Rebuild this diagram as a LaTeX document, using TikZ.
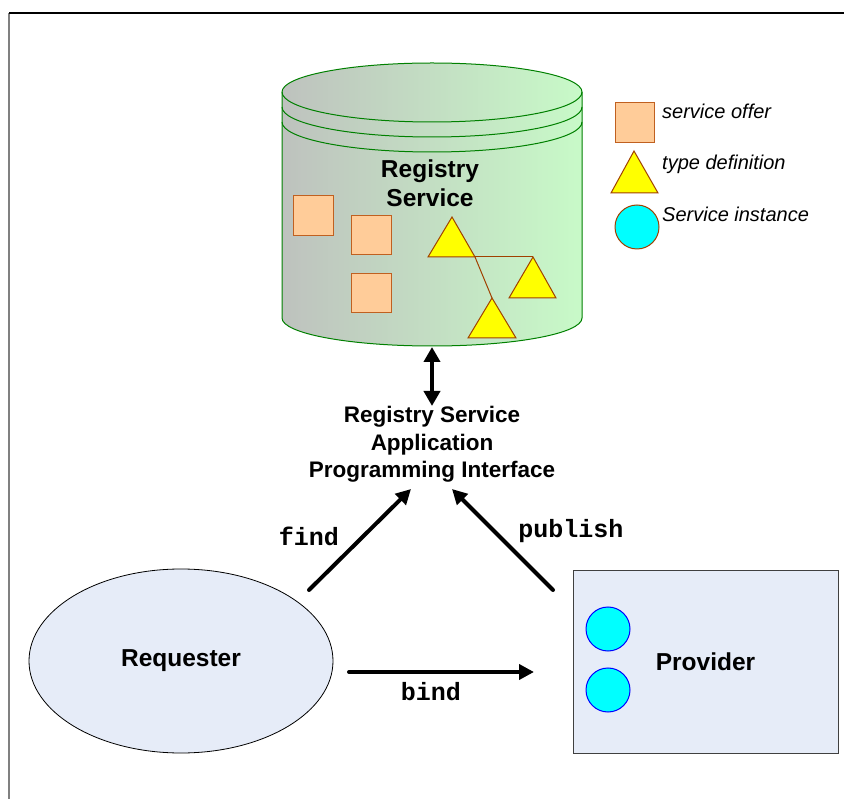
\documentclass[tikz,border=0pt]{standalone}
\usepackage{fontspec}
\setmainfont{Liberation Sans}
\newfontfamily\monofam{Liberation Mono}
\usetikzlibrary{arrows.meta,shapes.geometric}
\definecolor{cylL}{RGB}{190,194,190}
\definecolor{cylR}{RGB}{200,250,200}
\definecolor{cylG}{RGB}{0,128,0}
\definecolor{peach}{RGB}{255,204,153}
\definecolor{peachB}{RGB}{192,96,32}
\definecolor{yel}{RGB}{255,255,0}
\definecolor{yelB}{RGB}{160,64,0}
\definecolor{lblue}{RGB}{230,236,248}
\definecolor{cyanC}{RGB}{0,255,255}
\definecolor{provB}{RGB}{64,64,64}
\tikzset{
  offer/.style={fill=peach,draw=peachB,line width=1pt},
  typedef/.style={fill=yel,draw=yelB,line width=1pt,line join=miter},
  inst/.style={fill=cyanC,draw=blue,line width=1pt},
  bigarrow/.style={line width=4pt,line cap=round,-{Triangle[length=15pt,width=15pt]}},
  dblarrow/.style={line width=4pt,{Triangle[length=15pt,width=16pt]}-{Triangle[length=15pt,width=16pt]}},
  sanslabel/.style={font=\bfseries\fontsize{24.5}{29}\selectfont,inner sep=0pt},
  apilabel/.style={font=\bfseries\fontsize{22.5}{27.5}\selectfont,inner sep=0pt,align=center},
  monolabel/.style={font=\monofam\bfseries\fontsize{25}{28}\selectfont,inner sep=0pt,anchor=base},
  legendtext/.style={font=\itshape\fontsize{20}{24}\selectfont,inner sep=0pt,anchor=base west},
}
\begin{document}
\begin{tikzpicture}[x=1pt,y=-1pt]
\useasboundingbox (0,0) rectangle (844,799);
% frame
\draw[gray,line width=2pt] (9,13) -- (9,799);
\draw[black,line width=1.5pt] (9,13) -- (844,13);

% cylinder (registry)
\path[left color=cylL,right color=cylR,draw=cylG,line width=1pt]
  (282,92) -- (282,318) arc[start angle=180,end angle=0,x radius=150,y radius=28]
  -- (582,92) arc[start angle=0,end angle=-180,x radius=150,y radius=29] -- cycle;
\draw[cylG,line width=1pt] (282,92) arc[start angle=180,end angle=0,x radius=150,y radius=30];
\draw[cylG,line width=1pt] (282,107) arc[start angle=180,end angle=0,x radius=150,y radius=30];
\draw[cylG,line width=1pt] (282,122) arc[start angle=180,end angle=0,x radius=150,y radius=30];
\node[sanslabel,align=center,anchor=base] (regtitle) at (430,207) {Registry\\Service};

% service offers
\draw[offer] (293,196) rectangle (333,236);
\draw[offer] (351,216) rectangle (391,255);
\draw[offer] (351,274) rectangle (391,313);

% type definitions
\coordinate (t1a) at (452,217); \coordinate (t1l) at (428,257); \coordinate (t1r) at (475,257);
\coordinate (t2a) at (533,257); \coordinate (t2l) at (509,298); \coordinate (t2r) at (556,298);
\coordinate (t3a) at (492,298); \coordinate (t3l) at (468,338); \coordinate (t3r) at (516,338);
\draw[yelB,line width=1pt] (t1r) -- (t2a);
\draw[yelB,line width=1pt] (t1r) -- (t3a);
\draw[typedef] (t1a) -- (t1l) -- (t1r) -- cycle;
\draw[typedef] (t2a) -- (t2l) -- (t2r) -- cycle;
\draw[typedef] (t3a) -- (t3l) -- (t3r) -- cycle;

% legend
\draw[offer] (615,103) rectangle (654,143);
\node[legendtext] (lg1) at (662,119) {service offer};
\draw[typedef] (634,151) -- (611,193) -- (658,193) -- cycle;
\node[legendtext] (lg2) at (662,170) {type definition};
\draw[fill=cyanC,draw=yelB,line width=1pt] (637,227) circle[radius=22];
\node[legendtext] (lg3) at (662,222) {Service instance};

% API
\node[apilabel,anchor=base] (api) at (432,478) {Registry Service\\Application\\Programming Interface};

% Requester and Provider
\node[ellipse,draw=black,line width=0.8pt,fill=lblue,minimum width=304pt,minimum height=184pt,inner sep=0pt,font=\bfseries\fontsize{24.5}{29}\selectfont] (req) at (181,661) {Requester};
\node[rectangle,draw=provB,line width=1pt,fill=lblue,minimum width=265pt,minimum height=183pt,inner sep=0pt,font=\bfseries\fontsize{24.5}{29}\selectfont] (prov) at (705.5,661.5) {Provider};
\draw[inst] (608,629) circle[radius=22];
\draw[inst] (608,690) circle[radius=22];

% connectors
\coordinate (regB) at (432,347);
\coordinate (apiT) at (432,406);
\draw[dblarrow] (regB) -- (apiT);

\coordinate (findS) at (309,590);
\coordinate (findE) at (411,489);
\draw[bigarrow] (findS) -- (findE);
\coordinate (pubS) at (553,590);
\coordinate (pubE) at (452,489);
\draw[bigarrow] (pubS) -- (pubE);
\coordinate (bindS) at (349,672);
\coordinate (bindE) at (534,672);
\draw[bigarrow] (bindS) -- (bindE);

\node[monolabel] (findl) at (309,545) {find};
\node[monolabel] (publ) at (571,538) {publish};
\node[monolabel] (bindl) at (431,700) {bind};
\end{tikzpicture}
\end{document}
